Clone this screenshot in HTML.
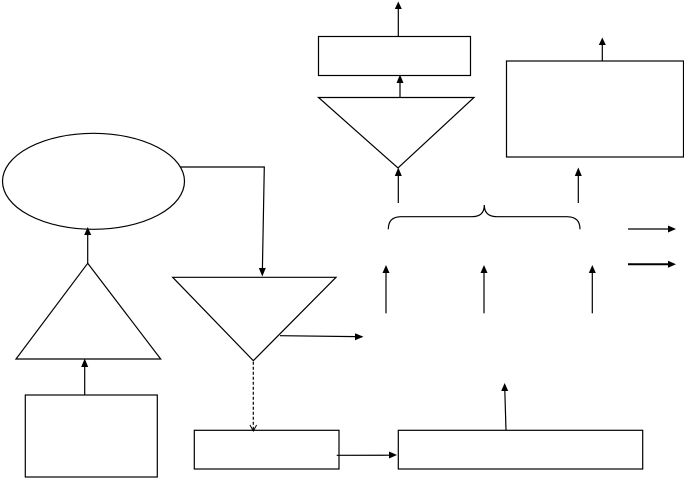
<!DOCTYPE html>
<html><head><meta charset="utf-8"><style>
html,body{margin:0;padding:0;background:#fff;}
svg{display:block;}
</style></head><body>
<svg width="684" height="478" viewBox="0 0 684 478" xmlns="http://www.w3.org/2000/svg">
<g fill="none" stroke="#000" stroke-width="1.2">
<!-- top shapes -->
<rect x="318.5" y="36.5" width="152" height="39"/>
<polygon points="318.5,97.5 474,97.5 398,168"/>
<rect x="506.5" y="61" width="177" height="96"/>
<!-- left shapes -->
<ellipse cx="93.5" cy="181.3" rx="91" ry="48"/>
<polygon points="87.7,263.3 16,359 160.7,359"/>
<polygon points="172.7,277.3 336,277.3 253.3,360.7"/>
<rect x="25.3" y="395" width="132" height="82"/>
<rect x="194.3" y="430.3" width="144.7" height="38.7"/>
<rect x="398.3" y="430.3" width="244.4" height="38.7"/>
<!-- connector lines -->
<line x1="398.3" y1="36.5" x2="398.3" y2="8"/>
<line x1="400" y1="97.3" x2="400" y2="82"/>
<line x1="602.3" y1="61" x2="602.3" y2="44"/>
<line x1="398.3" y1="203" x2="398.3" y2="175"/>
<line x1="578.3" y1="203" x2="578.3" y2="175"/>
<line x1="87.7" y1="263" x2="87.7" y2="234"/>
<polyline points="180,167 264.3,167 262.4,269"/>
<line x1="280" y1="335.7" x2="356" y2="336.6"/>
<line x1="84.7" y1="395" x2="84.7" y2="366"/>
<line x1="253.3" y1="361.7" x2="253.3" y2="430" stroke-dasharray="3,2"/>
<polyline points="250,425 253.3,431 256.6,425" stroke-width="1"/>
<line x1="336.7" y1="455.3" x2="390" y2="455.2"/>
<line x1="506" y1="430" x2="504.8" y2="390"/>
<line x1="628" y1="229" x2="669" y2="229"/>
<line x1="628" y1="264.3" x2="669" y2="264.3" stroke-width="2"/>
<line x1="386" y1="313.3" x2="386" y2="272"/>
<line x1="484" y1="313.3" x2="484" y2="272"/>
<line x1="592.3" y1="313.3" x2="592.3" y2="272"/>
<!-- brace -->
<path d="M388.3,229.3 Q388.3,216.7 401,216.7 L472,216.7 Q484.3,216.7 484.3,205 Q484.3,216.7 497,216.7 L567,216.7 Q580,216.7 580,229.3"/>
</g>
<g fill="#000" stroke="none">
<!-- up arrowheads -->
<polygon points="398.3,1.5 394.8,9 401.8,9"/>
<polygon points="400,74.5 396.5,83 403.5,83"/>
<polygon points="602.3,37.5 598.8,45 605.8,45"/>
<polygon points="398.3,167.5 394.8,176 401.8,176"/>
<polygon points="578.3,167.5 574.8,176 581.8,176"/>
<polygon points="87.7,227 84.2,235 91.2,235"/>
<polygon points="84.7,358.5 81.2,367 88.2,367"/>
<polygon points="504.7,383 501.2,391 508.2,391"/>
<polygon points="386,265 382.5,273 389.5,273"/>
<polygon points="484,265 480.5,273 487.5,273"/>
<polygon points="592.3,265 588.8,273 595.8,273"/>
<!-- down arrowhead -->
<polygon points="262.3,276.5 258.8,268 265.8,268"/>
<!-- right arrowheads -->
<polygon points="363.5,336.7 355,333.2 355,340.2"/>
<polygon points="397,455 389,451.5 389,458.5"/>
<polygon points="676,229 668,225.5 668,232.5"/>
<polygon points="676,264.3 668,260.8 668,267.8"/>
</g>
</svg>
</body></html>
